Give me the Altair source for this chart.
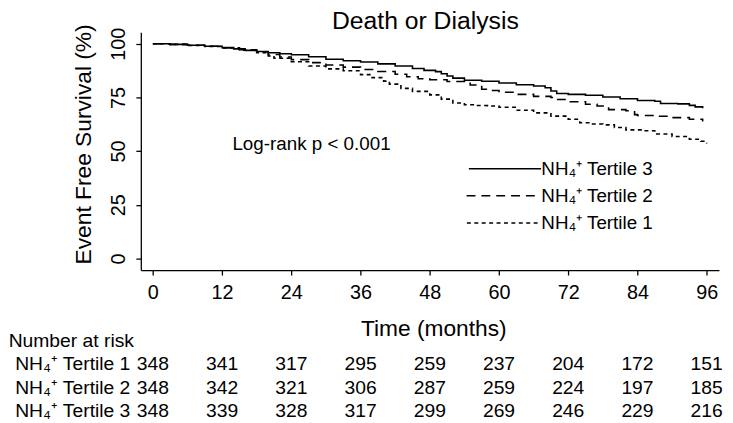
import altair as alt
import pandas as pd

FONT = "Liberation Sans, Arial, Helvetica, sans-serif"

# ---- data ----
x_ticks = [0, 12, 24, 36, 48, 60, 72, 84, 96]
y_ticks = [0, 25, 50, 75, 100]
groups = ["NH₄⁺ Tertile 1", "NH₄⁺ Tertile 2", "NH₄⁺ Tertile 3"]

t1_time = [0, 3, 6, 9, 12, 15, 18, 20, 21, 24, 27, 30, 33, 36, 38, 40, 41, 43, 45, 48,
           50, 52, 54, 56, 58, 60, 63, 66, 69, 72, 74, 76, 78, 80, 82, 85, 87, 90, 93, 95, 96]
t1_surv = [100, 99.7, 99.2, 98.7, 98.0, 97.0, 95.8, 94.3, 93.2, 91.6, 89.6, 88.3, 87.4, 85.6,
           84.2, 82.6, 81.2, 79.2, 77.8, 76.2, 74.2, 72.4, 71.6, 71.2, 71.0, 70.4, 69.0, 67.8,
           66.3, 64.8, 63.2, 62.6, 62.2, 61.0, 59.9, 59.5, 58.0, 56.8, 55.5, 54.6, 53.5]

t2_time = [0, 3, 6, 9, 12, 15, 18, 20, 22, 24, 27, 30, 33, 36, 39, 42, 44, 46, 48, 51, 54,
           55, 57, 58, 60, 63, 66, 69, 70, 72, 75, 77, 79, 82, 83.5, 84, 87, 90, 93, 95.3]
t2_surv = [100, 99.7, 99.3, 98.8, 98.1, 97.2, 96.3, 95.0, 93.8, 92.6, 91.2, 90.1, 89.1, 88.0,
           87.1, 85.8, 84.6, 83.7, 83.2, 82.4, 81.6, 80.8, 78.8, 78.2, 77.4, 76.4, 75.5, 75.0,
           74.0, 73.0, 71.8, 71.0, 69.3, 68.8, 67.0, 66.6, 66.2, 65.6, 64.8, 63.8]

t3_time = [0, 3, 6, 9, 12, 14, 16, 18, 20, 22, 24, 27, 30, 33, 36, 39, 42, 45, 47, 49, 50,
           51, 52, 54, 57, 60, 63, 66, 68, 69, 70, 72, 75, 78, 81, 84, 87, 88, 91, 93, 94, 95.3]
t3_surv = [100, 99.7, 99.3, 98.8, 98.2, 97.6, 96.9, 96.4, 95.8, 95.3, 94.9, 93.9, 92.8, 92.1,
           91.5, 90.6, 89.6, 88.5, 87.6, 87.0, 86.0, 85.0, 84.0, 83.0, 82.5, 81.7, 80.9, 80.3,
           79.5, 78.0, 76.8, 76.4, 76.0, 75.2, 74.4, 73.6, 73.2, 72.2, 72.0, 71.3, 70.6, 70.0]

risk_t1 = [348, 341, 317, 295, 259, 237, 204, 172, 151]
risk_t2 = [348, 342, 321, 306, 287, 259, 224, 197, 185]
risk_t3 = [348, 339, 328, 317, 299, 269, 246, 229, 216]

title_text = "Death or Dialysis"
x_title = "Time (months)"
y_title = "Event Free Survival (%)"
pval_text = "Log-rank p < 0.001"
risk_title = "Number at risk"

# ---- tables built from the arrays ----
km = pd.concat([
    pd.DataFrame({"month": t1_time, "surv": t1_surv, "group": groups[0]}),
    pd.DataFrame({"month": t2_time, "surv": t2_surv, "group": groups[1]}),
    pd.DataFrame({"month": t3_time, "surv": t3_surv, "group": groups[2]}),
])
risk = pd.concat([
    pd.DataFrame({"month": x_ticks, "n": risk_t1, "group": groups[0]}),
    pd.DataFrame({"month": x_ticks, "n": risk_t2, "group": groups[1]}),
    pd.DataFrame({"month": x_ticks, "n": risk_t3, "group": groups[2]}),
])

# ---- layout (pixels) ----
W, H = 584.6, 240.6
PAD_L, PAD_T = 134.3, 22.1
PAD_R = 725 - PAD_L - W
PAD_B = 415 - PAD_T - H

xscale = alt.Scale(domain=[-2.09, 98.13], nice=False, zero=False)
yscale = alt.Scale(domain=[-5.39, 105.39], nice=False, zero=False)
dashes = [[4, 3.5], [9, 6], [1, 0]]

xaxis = alt.Axis(values=x_ticks, grid=False, domainColor="black", domainWidth=1.3,
                 tickColor="black", tickWidth=1.3, tickSize=5, labelFont=FONT,
                 labelFontSize=20, labelColor="black", labelPadding=8, labelFlush=False,
                 labelOverlap=False,
                 title=x_title, titleFont=FONT, titleFontSize=23, titleFontWeight="normal",
                 titleColor="black", titleX=295.7, titleY=66, titleBaseline="alphabetic",
                 titleAlign="center")
yaxis = alt.Axis(values=y_ticks, grid=False, domainColor="black", domainWidth=1.3,
                 tickColor="black", tickWidth=1.3, tickSize=5, labelFont=FONT,
                 labelFontSize=20, labelColor="black", labelAngle=270, labelAlign="center",
                 labelBaseline="alphabetic", labelPadding=12, labelFlush=False,
                 title=y_title, titleFont=FONT, titleFontSize=23, titleFontWeight="normal",
                 titleColor="black", titleX=-51, titleY=113, titleAlign="center",
                 titleBaseline="alphabetic")

lines = alt.Chart(km).mark_line(interpolate="step-after", color="black", strokeWidth=1.6).encode(
    x=alt.X("month:Q", scale=xscale, axis=xaxis),
    y=alt.Y("surv:Q", scale=yscale, axis=yaxis),
    strokeDash=alt.StrokeDash("group:N", scale=alt.Scale(domain=groups, range=dashes), legend=None),
    detail="group:N",
)

pval = alt.Chart(pd.DataFrame({"t": [pval_text]})).mark_text(
    font=FONT, fontSize=19, color="black", align="center", baseline="middle"
).encode(
    x=alt.X(datum=27.5, scale=xscale, axis=xaxis),
    y=alt.Y(datum=53.2, scale=yscale, axis=None),
    text="t:N",
)

# in-plot legend (Stata style)
leg_rows = [(groups[2], 138.2, 331.7, 404.7), (groups[1], 165.5, 329.4, 403.0),
            (groups[0], 192.9, 329.7, 403.0)]
legend_layers = []
for g, ly, x0, x1 in leg_rows:
    d = dashes[groups.index(g)]
    df = pd.DataFrame({"group": [g]})
    legend_layers.append(alt.Chart(df).mark_rule(color="black", strokeWidth=1.6, strokeDash=d).encode(
        x=alt.value(x0), x2=alt.value(x1), y=alt.value(ly)))
    legend_layers.append(alt.Chart(df).mark_text(
        font=FONT, fontSize=19, color="black", align="left", baseline="alphabetic").encode(
        x=alt.value(405.0), y=alt.value(ly + 6.5), text="group:N"))

# chart title as a text mark above the plot (kept inside the page's drawable area)
title_layer = alt.Chart(pd.DataFrame({"t": [title_text]})).mark_text(
    font=FONT, fontSize=25, color="black", align="center", baseline="alphabetic").encode(
    x=alt.value(287.7), y=alt.value(-3.3), text="t:N")

# number at risk table
rows_y = alt.Y("group:N", sort=groups,
               scale=alt.Scale(type="point", domain=groups, range=[341.6, 389.2], padding=0),
               axis=None)
table = alt.Chart(risk).mark_text(font=FONT, fontSize=19.5, color="black", align="center",
                                  baseline="alphabetic").encode(
    x=alt.X("month:Q", scale=xscale, axis=xaxis), y=rows_y, text="n:Q")
row_labels = alt.Chart(pd.DataFrame({"group": groups})).mark_text(
    font=FONT, fontSize=19.5, color="black", align="right", baseline="alphabetic").encode(
    x=alt.value(-10.6), y=rows_y, text="group:N")
risk_head = alt.Chart(pd.DataFrame({"t": [risk_title]})).mark_text(
    font=FONT, fontSize=19.5, color="black", align="left", baseline="alphabetic").encode(
    x=alt.value(-133.6), y=alt.value(318.0), text="t:N")

chart = alt.layer(lines, pval, *legend_layers, title_layer, table, row_labels, risk_head).resolve_scale(
    y="independent"
).properties(
    width=W, height=H,
    background="white",
    autosize=alt.AutoSizeParams(type="none"),
    padding={"left": PAD_L, "top": PAD_T, "right": PAD_R, "bottom": PAD_B},
).configure_view(stroke=None)

chart.save("out.html", embed_options={"renderer": "svg", "actions": False})
